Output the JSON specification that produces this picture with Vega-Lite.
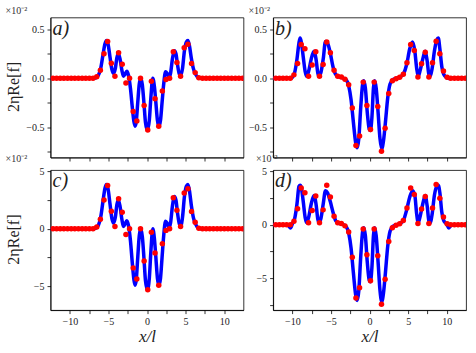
{
  "$schema": "https://vega.github.io/schema/vega-lite/v6.json",
  "bounds": "flush",
  "columns": 2,
  "spacing": {"row": 12.6, "column": 29.6},
  "padding": {"left": 4.5, "top": 4.5, "right": 5, "bottom": 5},
  "config": {
    "font": "Liberation Serif",
    "view": {"stroke": "#000", "strokeWidth": 0.8},
    "axis": {"domainColor": "#000", "domainWidth": 0.8, "tickColor": "#000", "tickWidth": 0.8, "tickSize": 3.5, "labelFont": "Liberation Serif", "labelFontSize": 10, "labelColor": "#222", "titleFont": "Liberation Serif", "titleFontWeight": "normal", "titleFontSize": 16, "titleColor": "#222", "grid": false, "labelPadding": 3, "labelFlush": false, "labelOverlap": false},
    "title": {"font": "Liberation Serif", "fontSize": 10, "fontWeight": "normal", "anchor": "start", "color": "#333", "offset": 2}
  },
  "datasets": {
    "a_line": [{"x":-12.5,"y":0},{"x":-7.0,"y":0},{"x":-6.6,"y":0.005},{"x":-6.3,"y":0.03},{"x":-6.0,"y":0.1},{"x":-5.7,"y":0.24},{"x":-5.45,"y":0.35},{"x":-5.25,"y":0.385},{"x":-5.05,"y":0.35},{"x":-4.8,"y":0.22},{"x":-4.55,"y":0.09},{"x":-4.35,"y":0.05},{"x":-4.1,"y":0.1},{"x":-3.9,"y":0.21},{"x":-3.72,"y":0.25},{"x":-3.5,"y":0.2},{"x":-3.25,"y":0.08},{"x":-3.05,"y":0.02},{"x":-2.85,"y":0.04},{"x":-2.62,"y":0.07},{"x":-2.4,"y":0.03},{"x":-2.15,"y":-0.1},{"x":-1.9,"y":-0.3},{"x":-1.7,"y":-0.44},{"x":-1.55,"y":-0.49},{"x":-1.4,"y":-0.45},{"x":-1.2,"y":-0.25},{"x":-1.0,"y":-0.06},{"x":-0.8,"y":0.0},{"x":-0.6,"y":-0.07},{"x":-0.4,"y":-0.25},{"x":-0.2,"y":-0.45},{"x":0.05,"y":-0.53},{"x":0.3,"y":-0.43},{"x":0.5,"y":-0.2},{"x":0.75,"y":0.0},{"x":0.95,"y":-0.08},{"x":1.15,"y":-0.25},{"x":1.35,"y":-0.43},{"x":1.55,"y":-0.49},{"x":1.75,"y":-0.43},{"x":1.95,"y":-0.25},{"x":2.15,"y":-0.07},{"x":2.4,"y":0.065},{"x":2.6,"y":0.05},{"x":2.85,"y":0.01},{"x":3.05,"y":0.05},{"x":3.3,"y":0.2},{"x":3.55,"y":0.28},{"x":3.75,"y":0.25},{"x":3.95,"y":0.14},{"x":4.2,"y":0.04},{"x":4.4,"y":0.03},{"x":4.6,"y":0.1},{"x":4.85,"y":0.28},{"x":5.1,"y":0.37},{"x":5.3,"y":0.385},{"x":5.5,"y":0.33},{"x":5.75,"y":0.2},{"x":6.0,"y":0.1},{"x":6.3,"y":0.04},{"x":6.6,"y":0.008},{"x":7.0,"y":0},{"x":12.5,"y":0}],
    "a_dots": [{"x":-12.18,"y":0},{"x":-11.71,"y":0},{"x":-11.24,"y":0},{"x":-10.77,"y":0},{"x":-10.29,"y":0},{"x":-9.82,"y":0},{"x":-9.35,"y":0},{"x":-8.88,"y":0},{"x":-8.4,"y":0},{"x":-7.93,"y":0},{"x":-7.46,"y":0},{"x":-6.99,"y":0},{"x":-6.51,"y":0.015},{"x":-6.04,"y":0.082},{"x":-5.57,"y":0.25},{"x":-5.1,"y":0.376},{"x":-4.62,"y":0.153},{"x":-4.15,"y":0.02},{"x":-3.68,"y":0.26},{"x":-3.21,"y":0.143},{"x":-2.73,"y":-0.05},{"x":-2.26,"y":0.0},{"x":-1.79,"y":-0.34},{"x":-1.32,"y":-0.436},{"x":-0.84,"y":0.0},{"x":-0.37,"y":-0.28},{"x":0.1,"y":-0.53},{"x":0.57,"y":-0.03},{"x":1.04,"y":-0.21},{"x":1.52,"y":-0.49},{"x":1.99,"y":-0.13},{"x":2.46,"y":-0.014},{"x":2.93,"y":0.0},{"x":3.41,"y":0.27},{"x":3.88,"y":0.16},{"x":4.35,"y":0.02},{"x":4.82,"y":0.31},{"x":5.3,"y":0.347},{"x":5.77,"y":0.15},{"x":6.24,"y":0.057},{"x":6.71,"y":0.005},{"x":7.19,"y":0},{"x":7.66,"y":0},{"x":8.13,"y":0},{"x":8.6,"y":0},{"x":9.08,"y":0},{"x":9.55,"y":0},{"x":10.02,"y":0},{"x":10.49,"y":0},{"x":10.97,"y":0},{"x":11.44,"y":0},{"x":11.91,"y":0},{"x":12.38,"y":0}],
    "b_line": [{"x":-12.5,"y":0},{"x":-10.7,"y":0},{"x":-10.3,"y":-0.003},{"x":-10.0,"y":0.01},{"x":-9.7,"y":0.06},{"x":-9.4,"y":0.2},{"x":-9.15,"y":0.36},{"x":-9.0,"y":0.41},{"x":-8.85,"y":0.37},{"x":-8.6,"y":0.22},{"x":-8.35,"y":0.07},{"x":-8.15,"y":0.02},{"x":-7.9,"y":0.07},{"x":-7.55,"y":0.2},{"x":-7.2,"y":0.275},{"x":-6.95,"y":0.2},{"x":-6.7,"y":0.05},{"x":-6.55,"y":0.02},{"x":-6.3,"y":0.06},{"x":-6.0,"y":0.2},{"x":-5.72,"y":0.375},{"x":-5.45,"y":0.36},{"x":-5.1,"y":0.26},{"x":-4.75,"y":0.12},{"x":-4.4,"y":0.04},{"x":-4.0,"y":0.015},{"x":-3.5,"y":0.005},{"x":-3.0,"y":-0.02},{"x":-2.7,"y":-0.08},{"x":-2.4,"y":-0.22},{"x":-2.1,"y":-0.45},{"x":-1.8,"y":-0.66},{"x":-1.6,"y":-0.71},{"x":-1.4,"y":-0.62},{"x":-1.15,"y":-0.3},{"x":-0.9,"y":-0.06},{"x":-0.75,"y":-0.027},{"x":-0.55,"y":-0.1},{"x":-0.3,"y":-0.35},{"x":-0.05,"y":-0.52},{"x":0.1,"y":-0.535},{"x":0.3,"y":-0.4},{"x":0.5,"y":-0.1},{"x":0.65,"y":-0.027},{"x":0.85,"y":-0.1},{"x":1.1,"y":-0.35},{"x":1.35,"y":-0.62},{"x":1.58,"y":-0.72},{"x":1.8,"y":-0.64},{"x":2.05,"y":-0.45},{"x":2.35,"y":-0.2},{"x":2.65,"y":-0.06},{"x":3.0,"y":-0.015},{"x":3.5,"y":0.0},{"x":4.0,"y":0.015},{"x":4.4,"y":0.045},{"x":4.8,"y":0.14},{"x":5.2,"y":0.3},{"x":5.57,"y":0.37},{"x":5.85,"y":0.28},{"x":6.1,"y":0.1},{"x":6.3,"y":0.02},{"x":6.55,"y":0.08},{"x":6.9,"y":0.2},{"x":7.2,"y":0.275},{"x":7.45,"y":0.18},{"x":7.7,"y":0.03},{"x":7.85,"y":0.02},{"x":8.1,"y":0.1},{"x":8.4,"y":0.28},{"x":8.7,"y":0.39},{"x":8.9,"y":0.41},{"x":9.1,"y":0.3},{"x":9.35,"y":0.12},{"x":9.6,"y":0.04},{"x":10.0,"y":0.005},{"x":10.3,"y":-0.003},{"x":10.7,"y":0},{"x":12.5,"y":0}],
    "b_dots": [{"x":-12.16,"y":0},{"x":-11.69,"y":0},{"x":-11.22,"y":0},{"x":-10.75,"y":0},{"x":-10.27,"y":0},{"x":-9.8,"y":0.034},{"x":-9.33,"y":0.15},{"x":-8.86,"y":0.345},{"x":-8.38,"y":0.3},{"x":-7.91,"y":0.02},{"x":-7.44,"y":0.135},{"x":-6.97,"y":0.27},{"x":-6.49,"y":0.02},{"x":-6.02,"y":0.14},{"x":-5.55,"y":0.37},{"x":-5.08,"y":0.26},{"x":-4.6,"y":0.081},{"x":-4.13,"y":0.02},{"x":-3.66,"y":0.013},{"x":-3.19,"y":-0.01},{"x":-2.71,"y":-0.068},{"x":-2.24,"y":-0.305},{"x":-1.77,"y":-0.687},{"x":-1.3,"y":-0.59},{"x":-0.83,"y":-0.04},{"x":-0.35,"y":-0.28},{"x":0.12,"y":-0.525},{"x":0.59,"y":-0.04},{"x":1.06,"y":-0.29},{"x":1.54,"y":-0.745},{"x":2.01,"y":-0.51},{"x":2.48,"y":-0.156},{"x":2.95,"y":-0.027},{"x":3.43,"y":-0.005},{"x":3.9,"y":0.01},{"x":4.37,"y":0.04},{"x":4.84,"y":0.158},{"x":5.32,"y":0.345},{"x":5.79,"y":0.284},{"x":6.26,"y":0.013},{"x":6.73,"y":0.148},{"x":7.21,"y":0.265},{"x":7.68,"y":0.013},{"x":8.15,"y":0.158},{"x":8.62,"y":0.378},{"x":9.1,"y":0.25},{"x":9.57,"y":0.074},{"x":10.04,"y":0.01},{"x":10.51,"y":0},{"x":10.99,"y":0},{"x":11.46,"y":0},{"x":11.93,"y":0},{"x":12.4,"y":0}],
    "c_line": [{"x":-12.5,"y":0},{"x":-7.0,"y":0},{"x":-6.6,"y":0.05},{"x":-6.3,"y":0.3},{"x":-6.0,"y":1.0},{"x":-5.7,"y":2.4},{"x":-5.45,"y":3.5},{"x":-5.25,"y":3.85},{"x":-5.05,"y":3.5},{"x":-4.8,"y":2.2},{"x":-4.55,"y":0.9},{"x":-4.35,"y":0.5},{"x":-4.1,"y":1.0},{"x":-3.9,"y":2.1},{"x":-3.72,"y":2.5},{"x":-3.5,"y":2.0},{"x":-3.25,"y":0.8},{"x":-3.05,"y":0.2},{"x":-2.85,"y":0.4},{"x":-2.62,"y":0.7},{"x":-2.4,"y":0.3},{"x":-2.15,"y":-1.0},{"x":-1.9,"y":-3.0},{"x":-1.7,"y":-4.4},{"x":-1.55,"y":-4.9},{"x":-1.4,"y":-4.5},{"x":-1.2,"y":-2.5},{"x":-1.0,"y":-0.6},{"x":-0.8,"y":0.0},{"x":-0.6,"y":-0.7},{"x":-0.4,"y":-2.5},{"x":-0.2,"y":-4.5},{"x":0.05,"y":-5.3},{"x":0.3,"y":-4.3},{"x":0.5,"y":-2.0},{"x":0.75,"y":0.0},{"x":0.95,"y":-0.8},{"x":1.15,"y":-2.5},{"x":1.35,"y":-4.3},{"x":1.55,"y":-4.9},{"x":1.75,"y":-4.3},{"x":1.95,"y":-2.5},{"x":2.15,"y":-0.7},{"x":2.4,"y":0.65},{"x":2.6,"y":0.5},{"x":2.85,"y":0.1},{"x":3.05,"y":0.5},{"x":3.3,"y":2.0},{"x":3.55,"y":2.8},{"x":3.75,"y":2.5},{"x":3.95,"y":1.4},{"x":4.2,"y":0.4},{"x":4.4,"y":0.3},{"x":4.6,"y":1.0},{"x":4.85,"y":2.8},{"x":5.1,"y":3.7},{"x":5.3,"y":3.85},{"x":5.5,"y":3.3},{"x":5.75,"y":2.0},{"x":6.0,"y":1.0},{"x":6.3,"y":0.4},{"x":6.6,"y":0.08},{"x":7.0,"y":0},{"x":12.5,"y":0}],
    "c_dots": [{"x":-12.18,"y":0},{"x":-11.71,"y":0},{"x":-11.24,"y":0},{"x":-10.77,"y":0},{"x":-10.29,"y":0},{"x":-9.82,"y":0},{"x":-9.35,"y":0},{"x":-8.88,"y":0},{"x":-8.4,"y":0},{"x":-7.93,"y":0},{"x":-7.46,"y":0},{"x":-6.99,"y":0},{"x":-6.51,"y":0.15},{"x":-6.04,"y":0.82},{"x":-5.57,"y":2.5},{"x":-5.1,"y":3.76},{"x":-4.62,"y":1.53},{"x":-4.15,"y":0.2},{"x":-3.68,"y":2.6},{"x":-3.21,"y":1.43},{"x":-2.73,"y":-0.5},{"x":-2.26,"y":0.0},{"x":-1.79,"y":-3.4},{"x":-1.32,"y":-4.36},{"x":-0.84,"y":0.0},{"x":-0.37,"y":-2.8},{"x":0.1,"y":-5.3},{"x":0.57,"y":-0.3},{"x":1.04,"y":-2.1},{"x":1.52,"y":-4.9},{"x":1.99,"y":-1.3},{"x":2.46,"y":-0.14},{"x":2.93,"y":0.0},{"x":3.41,"y":2.7},{"x":3.88,"y":1.6},{"x":4.35,"y":0.2},{"x":4.82,"y":3.1},{"x":5.3,"y":3.47},{"x":5.77,"y":1.5},{"x":6.24,"y":0.57},{"x":6.71,"y":0.05},{"x":7.19,"y":0},{"x":7.66,"y":0},{"x":8.13,"y":0},{"x":8.6,"y":0},{"x":9.08,"y":0},{"x":9.55,"y":0},{"x":10.02,"y":0},{"x":10.49,"y":0},{"x":10.97,"y":0},{"x":11.44,"y":0},{"x":11.91,"y":0},{"x":12.38,"y":0}],
    "d_line": [{"x":-12.5,"y":0},{"x":-10.9,"y":0},{"x":-10.5,"y":-0.1},{"x":-10.25,"y":-0.3},{"x":-10.0,"y":0.1},{"x":-9.7,"y":0.6},{"x":-9.4,"y":2.0},{"x":-9.15,"y":3.6},{"x":-9.0,"y":3.7},{"x":-8.85,"y":3.5},{"x":-8.6,"y":2.2},{"x":-8.35,"y":0.7},{"x":-8.15,"y":0.2},{"x":-7.9,"y":0.7},{"x":-7.55,"y":2.0},{"x":-7.2,"y":2.75},{"x":-6.95,"y":2.0},{"x":-6.7,"y":0.5},{"x":-6.55,"y":0.2},{"x":-6.3,"y":0.6},{"x":-6.0,"y":2.0},{"x":-5.72,"y":3.2},{"x":-5.45,"y":3.0},{"x":-5.1,"y":2.2},{"x":-4.75,"y":1.2},{"x":-4.4,"y":0.4},{"x":-4.0,"y":0.15},{"x":-3.5,"y":0.05},{"x":-3.0,"y":-0.2},{"x":-2.7,"y":-0.8},{"x":-2.4,"y":-2.2},{"x":-2.1,"y":-4.5},{"x":-1.8,"y":-6.6},{"x":-1.6,"y":-7.1},{"x":-1.4,"y":-6.2},{"x":-1.15,"y":-3.0},{"x":-0.9,"y":-0.6},{"x":-0.75,"y":-0.27},{"x":-0.55,"y":-1.0},{"x":-0.3,"y":-3.5},{"x":-0.05,"y":-5.2},{"x":0.1,"y":-5.35},{"x":0.3,"y":-4.0},{"x":0.5,"y":-1.0},{"x":0.65,"y":-0.27},{"x":0.85,"y":-1.0},{"x":1.1,"y":-3.5},{"x":1.35,"y":-6.2},{"x":1.58,"y":-7.2},{"x":1.8,"y":-6.4},{"x":2.05,"y":-4.5},{"x":2.35,"y":-2.0},{"x":2.65,"y":-0.6},{"x":3.0,"y":-0.15},{"x":3.5,"y":0.0},{"x":4.0,"y":0.15},{"x":4.4,"y":0.45},{"x":4.8,"y":1.4},{"x":5.2,"y":2.6},{"x":5.57,"y":3.2},{"x":5.85,"y":2.8},{"x":6.1,"y":1.0},{"x":6.3,"y":0.2},{"x":6.55,"y":0.8},{"x":6.9,"y":2.0},{"x":7.2,"y":2.75},{"x":7.45,"y":1.8},{"x":7.7,"y":0.3},{"x":7.85,"y":0.2},{"x":8.1,"y":1.0},{"x":8.4,"y":2.8},{"x":8.7,"y":3.6},{"x":8.9,"y":3.7},{"x":9.1,"y":3.0},{"x":9.35,"y":1.2},{"x":9.6,"y":0.4},{"x":10.0,"y":0.05},{"x":10.25,"y":-0.3},{"x":10.5,"y":-0.1},{"x":10.9,"y":0},{"x":12.5,"y":0}],
    "d_dots": [{"x":-12.16,"y":0},{"x":-11.69,"y":0},{"x":-11.22,"y":0},{"x":-10.75,"y":0},{"x":-10.27,"y":0},{"x":-9.8,"y":0.34},{"x":-9.33,"y":1.5},{"x":-8.86,"y":3.45},{"x":-8.38,"y":3.0},{"x":-7.91,"y":0.2},{"x":-7.44,"y":1.35},{"x":-6.97,"y":2.7},{"x":-6.49,"y":0.2},{"x":-6.02,"y":1.4},{"x":-5.55,"y":3.7},{"x":-5.08,"y":2.6},{"x":-4.6,"y":0.81},{"x":-4.13,"y":0.2},{"x":-3.66,"y":0.13},{"x":-3.19,"y":-0.1},{"x":-2.71,"y":-0.68},{"x":-2.24,"y":-3.05},{"x":-1.77,"y":-6.87},{"x":-1.3,"y":-5.9},{"x":-0.83,"y":-0.4},{"x":-0.35,"y":-2.8},{"x":0.12,"y":-5.25},{"x":0.59,"y":-0.4},{"x":1.06,"y":-2.9},{"x":1.54,"y":-7.45},{"x":2.01,"y":-5.1},{"x":2.48,"y":-1.56},{"x":2.95,"y":-0.27},{"x":3.43,"y":-0.05},{"x":3.9,"y":0.1},{"x":4.37,"y":0.4},{"x":4.84,"y":1.58},{"x":5.32,"y":3.45},{"x":5.79,"y":2.84},{"x":6.26,"y":0.13},{"x":6.73,"y":1.48},{"x":7.21,"y":2.65},{"x":7.68,"y":0.13},{"x":8.15,"y":1.58},{"x":8.62,"y":3.78},{"x":9.1,"y":2.5},{"x":9.57,"y":0.74},{"x":10.04,"y":0.1},{"x":10.51,"y":0},{"x":10.99,"y":0},{"x":11.46,"y":0},{"x":11.93,"y":0},{"x":12.4,"y":0}]
  },
  "concat": [
    {
      "width": 193, "height": 140,
      "title": {"text": "×10⁻²"},
      "encoding": {
        "x": {"field": "x", "type": "quantitative", "scale": {"domain": [-12.5, 12.5], "nice": false, "zero": false}, "axis": {"values": [-10, -7.5, -5, -2.5, 0, 2.5, 5, 7.5, 10], "labels": false, "title": null}},
        "y": {"field": "y", "type": "quantitative", "scale": {"domain": [-0.81, 0.62], "nice": false, "zero": false}, "axis": {"values": [-0.75, -0.5, -0.25, 0, 0.25, 0.5], "labelExpr": "abs(datum.value) % 0.5 < 0.001 ? format(datum.value, '.1f') : ''", "title": "2ηRe[f]", "titleX": -29, "titleY": 69}}
      },
      "layer": [
        {"data": {"name": "a_line"}, "mark": {"type": "line", "color": "#0000ff", "strokeWidth": 3.5, "interpolate": "monotone", "clip": true}},
        {"data": {"name": "a_dots"}, "mark": {"type": "circle", "color": "#ff0000", "opacity": 1, "size": 30, "clip": true}},
        {"data": {"values": [{"x": -12.5, "y": 0.62, "t": "a)"}]}, "mark": {"type": "text", "align": "left", "baseline": "top", "fontStyle": "italic", "fontSize": 20, "dx": 2, "dy": 1, "color": "#222"}, "encoding": {"text": {"field": "t"}}}
      ]
    },
    {
      "width": 193, "height": 140,
      "title": {"text": "×10⁻²"},
      "encoding": {
        "x": {"field": "x", "type": "quantitative", "scale": {"domain": [-12.5, 12.5], "nice": false, "zero": false}, "axis": {"values": [-10, -7.5, -5, -2.5, 0, 2.5, 5, 7.5, 10], "labels": false, "title": null}},
        "y": {"field": "y", "type": "quantitative", "scale": {"domain": [-0.81, 0.62], "nice": false, "zero": false}, "axis": {"values": [-0.75, -0.5, -0.25, 0, 0.25, 0.5], "labelExpr": "abs(datum.value) % 0.5 < 0.001 ? format(datum.value, '.1f') : ''", "title": null}}
      },
      "layer": [
        {"data": {"name": "b_line"}, "mark": {"type": "line", "color": "#0000ff", "strokeWidth": 3.5, "interpolate": "monotone", "clip": true}},
        {"data": {"name": "b_dots"}, "mark": {"type": "circle", "color": "#ff0000", "opacity": 1, "size": 30, "clip": true}},
        {"data": {"values": [{"x": -12.5, "y": 0.62, "t": "b)"}]}, "mark": {"type": "text", "align": "left", "baseline": "top", "fontStyle": "italic", "fontSize": 20, "dx": 2, "dy": 1, "color": "#222"}, "encoding": {"text": {"field": "t"}}}
      ]
    },
    {
      "width": 193, "height": 140,
      "title": {"text": "×10⁻²"},
      "encoding": {
        "x": {"field": "x", "type": "quantitative", "scale": {"domain": [-12.5, 12.5], "nice": false, "zero": false}, "axis": {"values": [-10, -7.5, -5, -2.5, 0, 2.5, 5, 7.5, 10], "labelExpr": "datum.value % 5 == 0 ? format(datum.value, 'd') : ''", "title": "x/l", "titleFontStyle": "italic", "titleFontSize": 17, "titlePadding": 2}},
        "y": {"field": "y", "type": "quantitative", "scale": {"domain": [-7.07, 5.1], "nice": false, "zero": false}, "axis": {"values": [-5, -2.5, 0, 2.5, 5], "labelExpr": "datum.value % 5 == 0 ? format(datum.value, 'd') : ''", "title": "2ηRe[f]", "titleX": -29, "titleY": 69}}
      },
      "layer": [
        {"data": {"name": "c_line"}, "mark": {"type": "line", "color": "#0000ff", "strokeWidth": 3.5, "interpolate": "monotone", "clip": true}},
        {"data": {"name": "c_dots"}, "mark": {"type": "circle", "color": "#ff0000", "opacity": 1, "size": 30, "clip": true}},
        {"data": {"values": [{"x": -12.5, "y": 5.1, "t": "c)"}]}, "mark": {"type": "text", "align": "left", "baseline": "top", "fontStyle": "italic", "fontSize": 20, "dx": 2, "dy": 1, "color": "#222"}, "encoding": {"text": {"field": "t"}}}
      ]
    },
    {
      "width": 193, "height": 140,
      "title": {"text": "×10⁻²"},
      "encoding": {
        "x": {"field": "x", "type": "quantitative", "scale": {"domain": [-12.5, 12.5], "nice": false, "zero": false}, "axis": {"values": [-10, -7.5, -5, -2.5, 0, 2.5, 5, 7.5, 10], "labelExpr": "datum.value % 5 == 0 ? format(datum.value, 'd') : ''", "title": "x/l", "titleFontStyle": "italic", "titleFontSize": 17, "titlePadding": 2}},
        "y": {"field": "y", "type": "quantitative", "scale": {"domain": [-8.0, 5.13], "nice": false, "zero": false}, "axis": {"values": [-7.5, -5, -2.5, 0, 2.5, 5], "labelExpr": "datum.value % 5 == 0 ? format(datum.value, 'd') : ''", "title": null}}
      },
      "layer": [
        {"data": {"name": "d_line"}, "mark": {"type": "line", "color": "#0000ff", "strokeWidth": 3.5, "interpolate": "monotone", "clip": true}},
        {"data": {"name": "d_dots"}, "mark": {"type": "circle", "color": "#ff0000", "opacity": 1, "size": 30, "clip": true}},
        {"data": {"values": [{"x": -12.5, "y": 5.13, "t": "d)"}]}, "mark": {"type": "text", "align": "left", "baseline": "top", "fontStyle": "italic", "fontSize": 20, "dx": 2, "dy": 1, "color": "#222"}, "encoding": {"text": {"field": "t"}}}
      ]
    }
  ]
}
